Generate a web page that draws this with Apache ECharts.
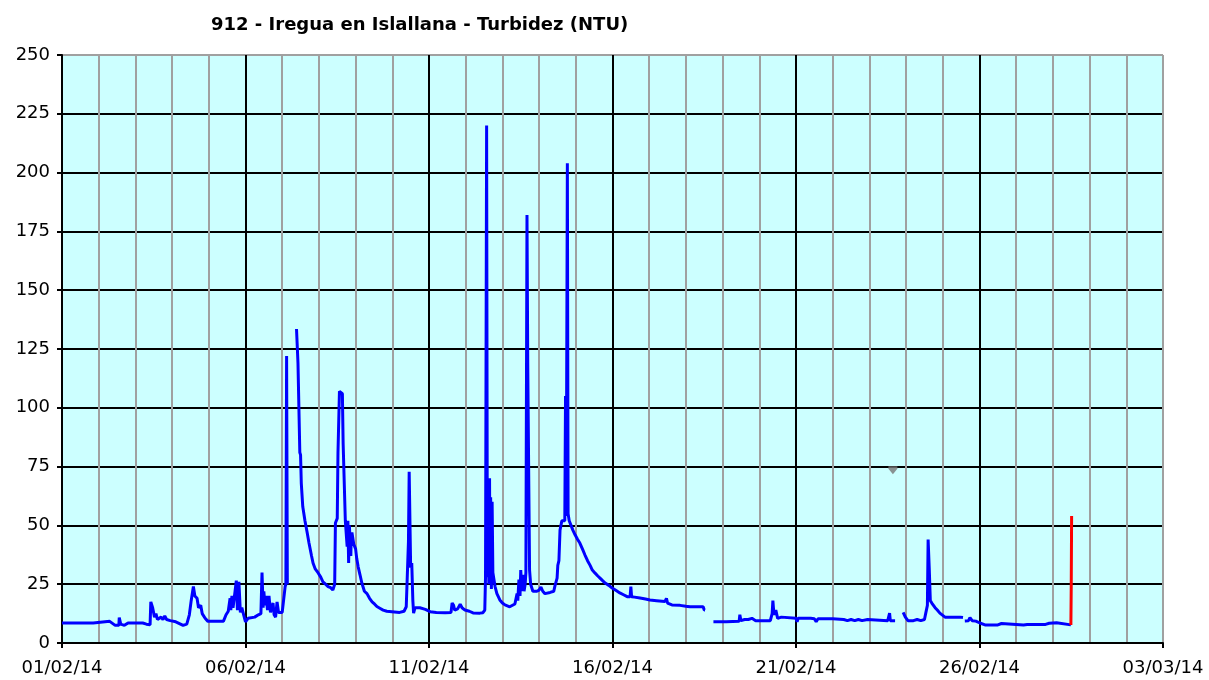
<!DOCTYPE html>
<html>
<head>
<meta charset="utf-8">
<script src="https://cdn.jsdelivr.net/npm/echarts@6/dist/echarts.min.js"></script>
<style>
  html, body { margin: 0; padding: 0; background: #fff; }
  #chart { width: 1209px; height: 680px; }
</style>
</head>
<body>
<div id="chart"></div>
<script>
'use strict';

// days since 01/02/14 00:00 ; null = gap in the record
const blueDays = [
    0.00, 0.85, 0.90, 1.30, 1.35, 1.45, 1.55, 1.56, 1.60, 1.70, 1.80, 2.20, 2.30, 2.40, 2.42, 2.47, 2.52, 2.56, 2.60, 2.70,
    2.75, 2.80, 2.85, 2.95, 3.10, 3.30, 3.40, 3.47, 3.52, 3.58, 3.62, 3.68, 3.72, 3.78, 3.82, 3.90, 3.97, 4.40, 4.47, 4.53,
    4.58, 4.60, 4.63, 4.66, 4.70, 4.75, 4.78, 4.82, 4.86, 4.90, 4.95, 5.00, 5.07, 5.25, 5.35, 5.42, 5.45, 5.48, 5.50, 5.53,
    5.56, 5.60, 5.64, 5.68, 5.72, 5.75, 5.78, 5.82, 5.86, 5.90, 6.00, 6.05, 6.08, 6.10, 6.12, 6.13, 6.14,
    6.39, 6.42, 6.43, 6.46, 6.48, 6.50, 6.52, 6.56, 6.62, 6.68, 6.73, 6.80, 6.84, 6.90, 6.98, 7.05, 7.11, 7.18, 7.25, 7.32,
    7.38, 7.41, 7.43, 7.45, 7.48, 7.50, 7.52, 7.56, 7.60, 7.64, 7.66, 7.70, 7.72, 7.75, 7.77, 7.79, 7.81, 7.83, 7.85, 7.87,
    7.88, 7.90, 7.95, 8.00, 8.03, 8.07, 8.12, 8.17, 8.20, 8.24, 8.31, 8.38, 8.45, 8.52, 8.58, 8.66, 8.75, 8.85, 8.99, 9.20,
    9.32, 9.38, 9.42, 9.44, 9.46, 9.49, 9.50, 9.53, 9.56, 9.58, 9.60, 9.62, 9.75, 9.80, 9.90, 10.03, 10.20, 10.44, 10.60, 10.63,
    10.67, 10.70, 10.78, 10.85, 10.90, 10.98, 11.10, 11.20, 11.39, 11.47, 11.52, 11.54, 11.56, 11.57, 11.59, 11.61, 11.63, 11.65, 11.66, 11.68,
    11.70, 11.72, 11.74, 11.76, 11.80, 11.85, 11.93, 12.00, 12.07, 12.20, 12.34, 12.40, 12.42, 12.45, 12.48, 12.50, 12.53, 12.56, 12.59, 12.62,
    12.64, 12.67, 12.69, 12.72, 12.74, 12.77, 12.83, 12.94, 13.00, 13.05, 13.10, 13.16, 13.30, 13.40, 13.43, 13.49, 13.51, 13.54, 13.57, 13.62,
    13.67, 13.70, 13.72, 13.74, 13.77, 13.79, 13.82, 13.87, 13.92, 13.98, 14.05, 14.11, 14.18, 14.25, 14.32, 14.39, 14.45, 14.52, 14.60, 14.66,
    14.73, 14.80, 14.90, 14.99, 15.10, 15.20, 15.30, 15.40, 15.48, 15.50, 15.52, 15.60, 15.75, 15.90, 16.02, 16.20, 16.43, 16.47, 16.50, 16.62,
    16.84, 17.00, 17.11, 17.30, 17.47, 17.50, 17.52, 17.60,
    17.75, 18.10, 18.45, 18.47, 18.50, 18.60, 18.70, 18.80, 18.90, 19.00, 19.30, 19.35, 19.37, 19.40, 19.45, 19.50, 19.60, 19.62, 20.00, 20.03,
    20.06, 20.40, 20.50, 20.55, 20.60, 21.00, 21.30, 21.40, 21.50, 21.60, 21.70, 21.80, 21.95, 22.00, 22.50, 22.55, 22.57, 22.70, 22.80,
    22.92, 22.98, 23.05, 23.20, 23.30, 23.40, 23.50, 23.54, 23.58, 23.60, 23.63, 23.66, 23.70, 23.79, 23.85, 23.92, 24.06, 24.20, 24.47, 24.55,
    24.57,
    24.60, 24.70, 24.74, 24.80, 24.90, 25.01, 25.15, 25.50, 25.60, 25.65, 26.20, 26.25, 26.30, 26.80, 26.90, 26.95, 27.10, 27.15, 27.49
];
const blueValues = [
    8.5, 8.5, 9.3, 9.2, 8.5, 7.5, 7.5, 10.8, 8, 7.5, 8.5, 8.5, 8, 7.8, 17.5, 15, 11, 12.5, 10, 11,
    10, 11.5, 10, 9.5, 9, 7.5, 8, 12, 18, 24, 20, 19, 15, 16, 12.5, 10.5, 9.3, 9.3, 12, 13.5,
    19, 14, 20, 15, 20, 26.5, 14, 26, 13, 15, 12, 9, 10.5, 11, 12, 12.5, 30, 15, 22, 16,
    20, 14, 20, 13, 13, 17, 12, 11, 17.5, 13, 13, 13.5, 24, 25, 122, 122, 25,
    133.5, 133, 119, 119, 81, 80, 68, 58, 52, 47, 42.5, 37, 34, 31.5, 29.8, 28, 26, 25, 24, 23.5,
    22.5, 22, 25, 51, 51, 53, 81, 107, 107, 106, 85, 85, 52, 52, 41, 52, 34, 50, 50, 37,
    45, 47, 42, 40, 36, 32.4, 29, 25.5, 25, 22, 21, 19, 17.5, 16.5, 15.5, 14.8, 14, 13.5, 13.3, 13,
    13.5, 15.4, 16, 43, 72.8, 72, 32, 34, 18, 12.7, 12.7, 15, 15, 14.5, 14.3, 13.3, 13, 12.9, 13, 17,
    16, 14, 14.5, 16.5, 15, 14, 13.5, 12.8, 12.7, 12.9, 14, 28, 28, 220, 28, 60, 25, 70, 26, 62,
    23, 60, 30, 28, 24, 21, 18.3, 17, 16.2, 15.4, 16.6, 21, 18, 27, 20, 31, 22, 29, 22, 25,
    30, 182, 120, 66, 31, 25, 22, 22, 22.5, 23.8, 22, 21, 21.5, 22, 24.2, 27.6, 33, 35, 48, 52,
    52, 52, 105, 54, 204, 55, 52, 50, 48, 46, 44, 42.5, 40, 37.4, 35, 33, 31, 29.8, 28.5, 27.6,
    26.5, 25.5, 24.5, 23.4, 22.3, 21.3, 20.5, 19.7, 19.7, 24, 19.7, 19.5, 19.1, 18.7, 18.3, 18, 17.6, 19, 17, 16.2,
    16, 15.6, 15.4, 15.4, 15.4, 14, 14, null,
    9, 9, 9.2, 12, 9.5, 10, 10, 10.5, 9.5, 9.5, 9.5, 12.5, 18, 12, 14, 10.5, 11, 10.5, 10.5, 9,
    10.5, 10.5, 10.3, 9, 10.3, 10.3, 10, 9.5, 10, 9.5, 10, 9.5, 10, 9.5, 9.5, 12.7, 9.5, 9.5, null,
    13, 11, 9.5, 9.5, 10, 9.5, 10, 13, 16, 44, 32, 18, 17, 15, 14, 12.7, 11, 11, 11, 10.8,
    null,
    9.4, 9.5, 10.8, 9.5, 9.3, 8.5, 7.7, 7.7, 8.3, 7.7, 7.7, 8.3, 7.9, 7.9, 8.4, 7.9, 8.6, 7.9, 7.7
];
// the record breaks after the first peak of 06/02
const gapAfterDay = 6.14;

const redDays = [27.49, 27.50, 27.51];
const redValues = [7.7, 25, 54];

const markerDays = [22.64];
const markerValues = [73.5];

const xTickLabels = ['01/02/14', '06/02/14', '11/02/14', '16/02/14', '21/02/14', '26/02/14', '03/03/14'];
const yTicks = [0, 25, 50, 75, 100, 125, 150, 175, 200, 225, 250];

function init() {
    const chart = echarts.init(document.getElementById('chart'));

    const bluePts = [];
    blueDays.forEach((d, i) => {
        bluePts.push([d, blueValues[i]]);
        if (d === gapAfterDay) {
            bluePts.push([d + 0.01, null]);
        }
    });
    const redPts = redDays.map((d, i) => [d, redValues[i]]);
    const markerPts = markerDays.map((d, i) => [d, markerValues[i]]);

    const font = 'DejaVu Sans, Verdana, sans-serif';
    // last split line of each axis (top / right border) is grey
    const yLineColors = yTicks.map((v, i) => (i === yTicks.length - 1 ? '#a0a0a0' : '#000'));
    const xMajorColors = xTickLabels.map((v, i) => (i === xTickLabels.length - 1 ? '#a0a0a0' : '#000'));

    const option = {
        backgroundColor: '#fff',
        animation: false,
        title: {
            text: '912 - Iregua en Islallana - Turbidez (NTU)',
            left: 206,
            top: 11,
            textStyle: { fontFamily: font, fontWeight: 'bold', fontSize: 18, color: '#000' },
        },
        grid: {
            left: 62,
            right: 46,
            top: 55,
            bottom: 37,
            show: true,
            backgroundColor: '#ccffff',
            borderWidth: 0,
        },
        xAxis: [
            {
                // daily grey grid
                type: 'value',
                min: 0,
                max: 30,
                interval: 1,
                axisLine: { show: false },
                axisTick: { show: false },
                axisLabel: { show: false },
                splitLine: { show: true, lineStyle: { color: '#a0a0a0', width: 2 } },
            },
            {
                type: 'value',
                min: 0,
                max: 30,
                interval: 5,
                position: 'bottom',
                axisLine: { show: true, onZero: false, lineStyle: { color: '#000', width: 2 } },
                axisTick: { show: true, length: 5, lineStyle: { color: '#000', width: 2 } },
                axisLabel: {
                    margin: 16,
                    fontFamily: font,
                    fontSize: 18,
                    color: '#000',
                    formatter: (v) => xTickLabels[Math.round(v / 5)],
                },
                splitLine: { show: true, lineStyle: { color: xMajorColors, width: 2 } },
            },
        ],
        yAxis: {
            type: 'value',
            min: 0,
            max: 250,
            interval: 25,
            axisLine: { show: true, lineStyle: { color: '#000', width: 2 } },
            axisTick: { show: true, length: 5, lineStyle: { color: '#000', width: 2 } },
            axisLabel: { margin: 12, fontFamily: font, fontSize: 18, color: '#000' },
            splitLine: { show: true, lineStyle: { color: yLineColors, width: 2 } },
        },
        series: [
            {
                type: 'line',
                xAxisIndex: 1,
                data: bluePts,
                showSymbol: false,
                connectNulls: false,
                lineStyle: { color: '#0000ff', width: 3 },
                z: 3,
            },
            {
                type: 'line',
                xAxisIndex: 1,
                data: redPts,
                showSymbol: false,
                lineStyle: { color: '#ff0000', width: 3 },
                z: 4,
            },
            {
                type: 'scatter',
                xAxisIndex: 1,
                data: markerPts,
                symbol: 'path://M0,0 L10,0 L10,3 L5,9 L0,3 Z',
                symbolSize: [9, 8],
                itemStyle: { color: '#777' },
                z: 5,
            },
        ],
    };

    chart.setOption(option);
}

(function () {
    init();
})();
</script>
</body>
</html>
